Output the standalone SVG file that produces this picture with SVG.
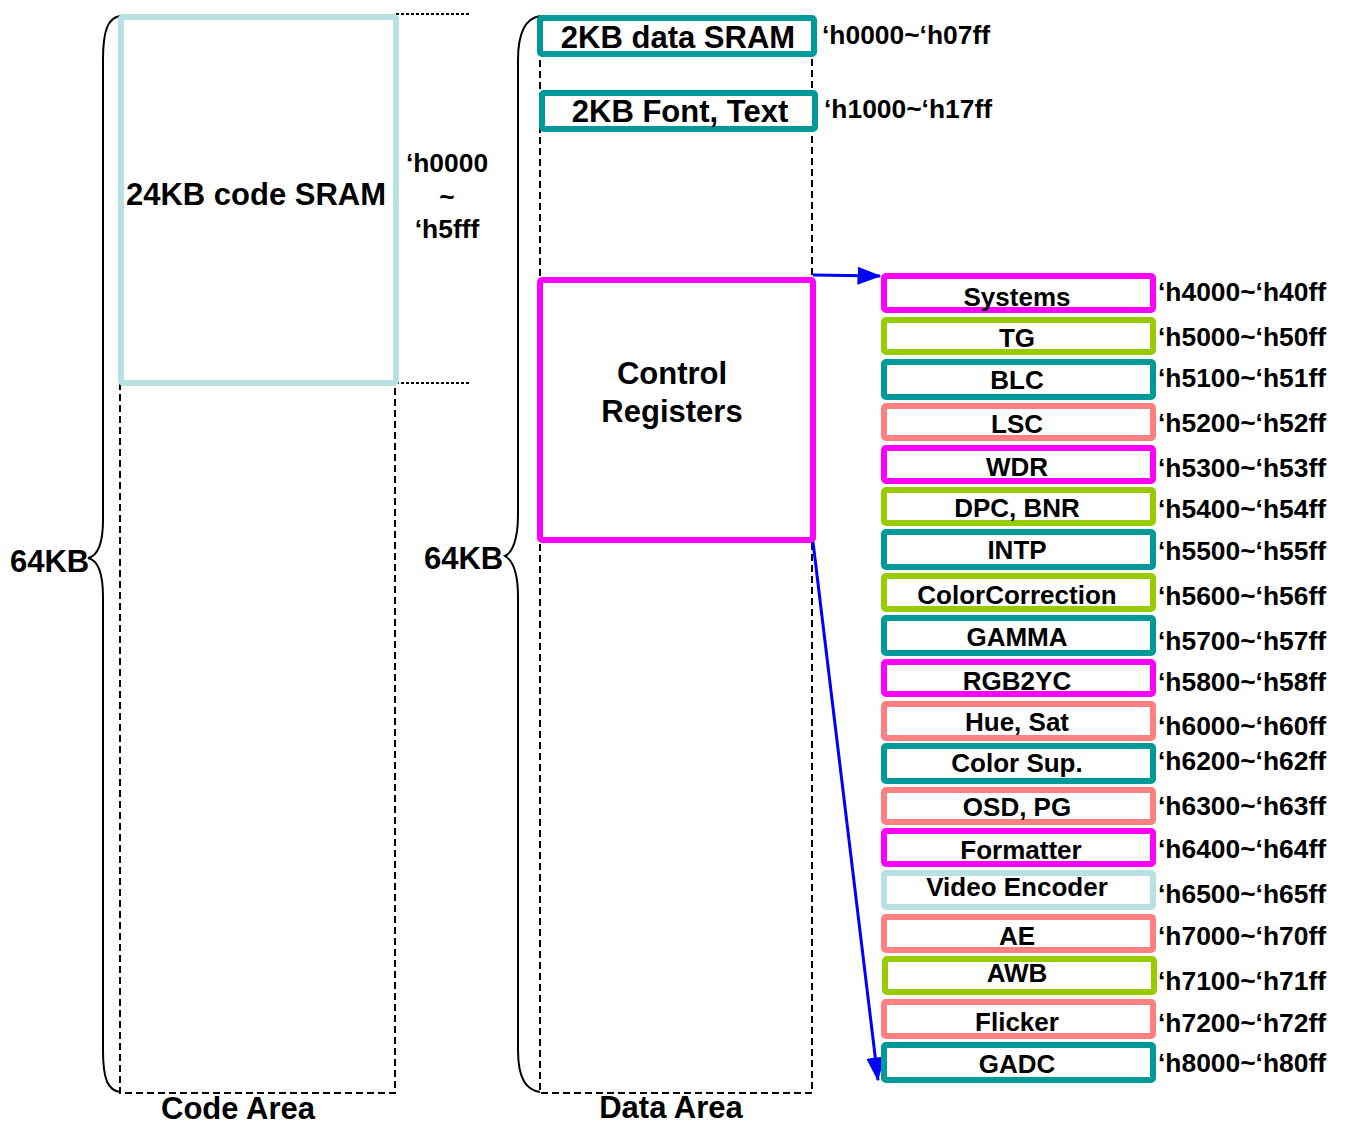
<svg xmlns="http://www.w3.org/2000/svg" width="1346" height="1126" viewBox="0 0 1346 1126">
<defs>
<style>
text{font-family:"Liberation Sans",Arial,sans-serif;font-weight:bold;fill:#000}
.big{font-size:31px}
.lbl{font-size:26px;text-anchor:middle}
.adr{font-size:26.4px}
.box{fill:#fff;stroke-width:6}
.mag{stroke:#ff00ff}.grn{stroke:#99cc00}.teal{stroke:#009999}.sal{stroke:#ff8080}.lb{stroke:#b9e0e3}
.dash{fill:none;stroke:#000;stroke-width:2;stroke-dasharray:7,4}
.dot{fill:none;stroke:#000;stroke-width:2;stroke-dasharray:3,2}
.brace{fill:none;stroke:#000;stroke-width:2}
.conn{fill:none;stroke:#0000ff;stroke-width:3}
</style>
<marker id="arr" markerWidth="8" markerHeight="6" refX="7.5" refY="3" orient="auto" markerUnits="strokeWidth">
<path d="M0,0 L8,3 L0,6 z" fill="#0000ff"/>
</marker>
</defs>
<rect width="1346" height="1126" fill="#fff"/>

<g id="code-area">
<path class="dash" d="M120,383 V1093 H395 V383"/>
<path class="dot" d="M396,14 H470 M396,383 H470"/>
<path class="brace" d="M120,16 C108,18 103,30 103,60 L103,520 C103,545 97,556 88,558 C97,560 103,572 103,597 L103,1050 C103,1080 108,1090 120,1092"/>
<text class="big" x="10" y="572">64KB</text>
<text class="big" x="238" y="1119" text-anchor="middle">Code Area</text>
</g>

<g id="code-sram">
<rect class="box lb" x="121" y="17" width="275" height="366" rx="2"/>
<text class="big" x="256" y="205" text-anchor="middle">24KB code SRAM</text>
<text class="adr" x="447" y="172" text-anchor="middle">‘h0000</text>
<text class="adr" x="447" y="206" text-anchor="middle">~</text>
<text class="adr" x="447" y="238" text-anchor="middle">‘h5fff</text>
</g>

<g id="data-area">
<path class="dash" d="M540,16 V1093 H812 V16"/>
<path class="brace" d="M540,16 C527,18 518,30 518,60 L518,515 C518,540 512,553 505,556 C512,560 518,572 518,597 L518,1050 C518,1080 527,1090 540,1092"/>
<text class="big" x="424" y="569">64KB</text>
<text class="big" x="671" y="1118" text-anchor="middle">Data Area</text>
</g>

<g id="data-sram">
<rect class="box teal" x="540" y="18" width="274" height="36" rx="2"/>
<text class="big" x="678" y="48" text-anchor="middle">2KB data SRAM</text>
<text class="adr" x="822" y="44">‘h0000~‘h07ff</text>
</g>

<g id="font-text">
<rect class="box teal" x="542" y="93" width="273" height="36" rx="2"/>
<text class="big" x="680" y="122" text-anchor="middle">2KB Font, Text</text>
<text class="adr" x="824" y="118">‘h1000~‘h17ff</text>
</g>

<g id="control-registers">
<rect class="box mag" x="540" y="280" width="273" height="260" rx="2"/>
<text class="big" x="672" y="384" text-anchor="middle">Control</text>
<text class="big" x="672" y="422" text-anchor="middle">Registers</text>
</g>

<g id="connectors">
<path class="conn" d="M813,275 L880,276" marker-end="url(#arr)"/>
<path class="conn" d="M813,542 L878,1080" marker-end="url(#arr)"/>
</g>

<g id="systems"><rect class="box mag" x="884" y="276" width="269" height="34" rx="2"/><text class="lbl" x="1017" y="306">Systems</text><text class="adr" x="1158" y="301">‘h4000~‘h40ff</text></g>
<g id="tg"><rect class="box grn" x="884" y="320" width="269" height="32" rx="2"/><text class="lbl" x="1017" y="347">TG</text><text class="adr" x="1158" y="346">‘h5000~‘h50ff</text></g>
<g id="blc"><rect class="box teal" x="884" y="362" width="269" height="35" rx="2"/><text class="lbl" x="1017" y="389">BLC</text><text class="adr" x="1158" y="387">‘h5100~‘h51ff</text></g>
<g id="lsc"><rect class="box sal" x="884" y="406" width="269" height="32" rx="2"/><text class="lbl" x="1017" y="433">LSC</text><text class="adr" x="1158" y="432">‘h5200~‘h52ff</text></g>
<g id="wdr"><rect class="box mag" x="884" y="448" width="269" height="33" rx="2"/><text class="lbl" x="1017" y="476">WDR</text><text class="adr" x="1158" y="477">‘h5300~‘h53ff</text></g>
<g id="dpc-bnr"><rect class="box grn" x="884" y="490" width="269" height="33" rx="2"/><text class="lbl" x="1017" y="517">DPC, BNR</text><text class="adr" x="1158" y="518">‘h5400~‘h54ff</text></g>
<g id="intp"><rect class="box teal" x="884" y="532" width="269" height="35" rx="2"/><text class="lbl" x="1017" y="559">INTP</text><text class="adr" x="1158" y="560">‘h5500~‘h55ff</text></g>
<g id="colorcorrection"><rect class="box grn" x="884" y="576" width="269" height="33" rx="2"/><text class="lbl" x="1017" y="604">ColorCorrection</text><text class="adr" x="1158" y="605">‘h5600~‘h56ff</text></g>
<g id="gamma"><rect class="box teal" x="884" y="618" width="269" height="35" rx="2"/><text class="lbl" x="1017" y="646">GAMMA</text><text class="adr" x="1158" y="650">‘h5700~‘h57ff</text></g>
<g id="rgb2yc"><rect class="box mag" x="884" y="662" width="269" height="32" rx="2"/><text class="lbl" x="1017" y="690">RGB2YC</text><text class="adr" x="1158" y="691">‘h5800~‘h58ff</text></g>
<g id="hue-sat"><rect class="box sal" x="884" y="704" width="269" height="34" rx="2"/><text class="lbl" x="1017" y="731">Hue, Sat</text><text class="adr" x="1158" y="735">‘h6000~‘h60ff</text></g>
<g id="color-sup"><rect class="box teal" x="884" y="746" width="269" height="35" rx="2"/><text class="lbl" x="1017" y="772">Color Sup.</text><text class="adr" x="1158" y="770">‘h6200~‘h62ff</text></g>
<g id="osd-pg"><rect class="box sal" x="884" y="790" width="269" height="32" rx="2"/><text class="lbl" x="1017" y="816">OSD, PG</text><text class="adr" x="1158" y="815">‘h6300~‘h63ff</text></g>
<g id="formatter"><rect class="box mag" x="884" y="831" width="269" height="33" rx="2"/><text class="lbl" x="1021" y="859">Formatter</text><text class="adr" x="1158" y="858">‘h6400~‘h64ff</text></g>
<g id="video-encoder"><rect class="box lb" x="884" y="873" width="269" height="34" rx="2"/><text class="lbl" x="1017" y="896">Video Encoder</text><text class="adr" x="1158" y="903">‘h6500~‘h65ff</text></g>
<g id="ae"><rect class="box sal" x="884" y="917" width="269" height="33" rx="2"/><text class="lbl" x="1017" y="945">AE</text><text class="adr" x="1158" y="945">‘h7000~‘h70ff</text></g>
<g id="awb"><rect class="box grn" x="885" y="959" width="269" height="33" rx="2"/><text class="lbl" x="1017" y="982">AWB</text><text class="adr" x="1158" y="990">‘h7100~‘h71ff</text></g>
<g id="flicker"><rect class="box sal" x="884" y="1002" width="269" height="34" rx="2"/><text class="lbl" x="1017" y="1031">Flicker</text><text class="adr" x="1158" y="1032">‘h7200~‘h72ff</text></g>
<g id="gadc"><rect class="box teal" x="884" y="1045" width="269" height="35" rx="2"/><text class="lbl" x="1017" y="1073">GADC</text><text class="adr" x="1158" y="1072">‘h8000~‘h80ff</text></g>
</svg>
